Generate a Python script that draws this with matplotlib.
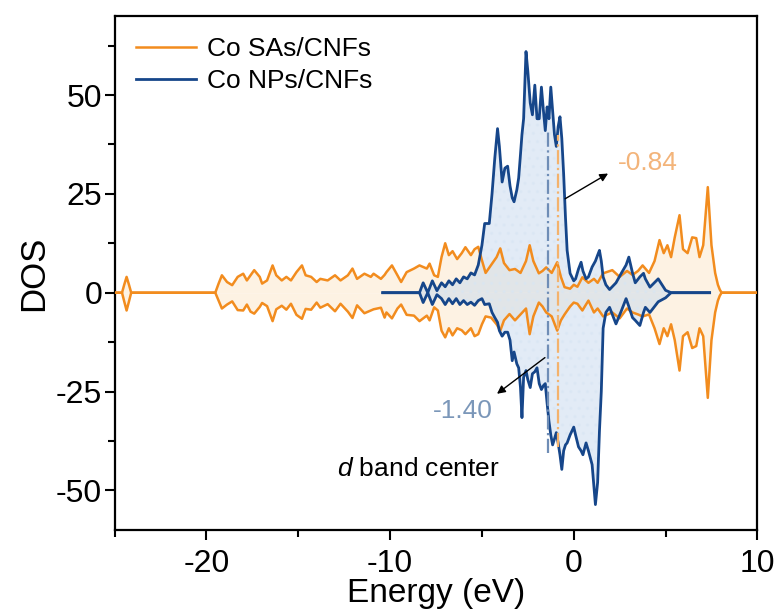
import matplotlib
matplotlib.use("Agg")
import matplotlib.pyplot as plt
from matplotlib.ticker import MultipleLocator

plt.rcParams["font.family"] = ["Liberation Sans", "DejaVu Sans"]
plt.rcParams["mathtext.fontset"] = "custom"
plt.rcParams["mathtext.it"] = "Liberation Sans:italic"
plt.rcParams["mathtext.rm"] = "Liberation Sans"
plt.rcParams["axes.unicode_minus"] = False
plt.rcParams["hatch.linewidth"] = 1.2

# Co SAs/CNFs, spin up / spin down
sa_energy = [
    -25.0, -24.6, -24.48, -24.35, -24.22, -24.1, -19.52,
    -19.34, -19.16, -18.88, -18.6, -18.3, -18.0, -17.8, -17.6, -17.4, -17.1,
    -16.97, -16.7, -16.4, -16.2, -15.9, -15.65, -15.4, -15.1, -14.8, -14.6,
    -14.3, -14.0, -13.8, -13.4, -13.0, -12.7, -12.3, -12.05, -11.8, -11.4,
    -11.05, -10.9, -10.5, -10.3, -10.2, -9.9, -9.6, -9.4, -9.1, -8.7, -8.4,
    -8.0, -7.85, -7.6, -7.4, -7.2, -7.0, -6.8, -6.6, -6.35, -6.1, -5.9, -5.6,
    -5.4, -5.2, -5.0, -4.8, -4.5, -4.2, -4.0, -3.8, -3.5, -3.2, -2.9, -2.6,
    -2.4, -2.2, -1.9, -1.7, -1.5, -1.2, -0.9, -0.7, -0.5, -0.2, 0.0, 0.2,
    0.47, 0.8, 1.1, 1.3, 1.6, 2.1, 2.5, 2.9, 3.2, 3.5, 3.75, 4.1, 4.4, 4.67,
    4.9, 5.1, 5.3, 5.5, 5.76, 5.95, 6.2, 6.45, 6.67, 6.85, 7.05, 7.3, 7.5,
    7.7, 7.85, 7.95, 8.05, 10.0,
]
sa_up = [
    0, 0, 2.0, 4.0, 2.0, 0, 0,
    2.3, 4.4, 2.7, 1.9, 4.0, 4.8, 3.1, 4.4, 5.7, 4.0,
    2.3, 3.1, 6.9, 4.4, 3.1, 4.0, 3.1, 5.2, 6.9, 4.4,
    4.0, 2.7, 3.5, 3.1, 4.4, 3.1, 4.4, 6.1, 3.5, 4.8,
    4.0, 4.8, 3.5, 4.5, 5.2, 6.9, 4.4, 2.7, 5.2, 6.1, 6.9,
    6.1, 7.35, 4.4, 4.0, 9.0, 12.5, 9.5, 10.5, 8.5, 10.0, 11.5, 9.5,
    11.0, 11.6, 8.2, 5.0, 7.0, 9.0, 11.2, 7.5, 5.7, 6.0, 5.0, 8.0,
    12.0, 8.0, 4.9, 5.5, 6.4, 5.0, 7.7, 4.0, 1.4, 1.0, 2.0, 1.5,
    3.9, 2.5, 3.5, 2.5, 4.9, 5.7, 4.0, 5.5, 4.5, 5.5, 6.9, 5.0, 8.0, 13.3,
    10.0, 12.0, 9.0, 14.0, 19.6, 11.0, 10.0, 14.0, 13.8, 9.0, 12.0, 26.7, 12.0,
    5.0, 2.0, 0.8, 0, 0,
]
sa_down = [
    0, 0, -2.2, -4.5, -2.2, 0, 0,
    -2.0, -4.0, -3.0, -2.2, -4.4, -4.5, -3.0, -4.8, -5.3, -3.6,
    -2.6, -3.4, -7.2, -4.2, -3.3, -4.3, -2.8, -5.6, -6.6, -4.1,
    -4.3, -2.5, -3.8, -2.9, -4.7, -2.8, -4.8, -6.4, -3.2, -5.2,
    -4.5, -4.2, -3.8, -6.3, -5.0, -6.5, -4.0, -3.0, -5.6, -5.8, -7.2,
    -5.8, -7.0, -3.7, -4.5, -9.6, -11.3, -9.0, -10.8, -9.0, -9.5, -10.5, -9.0,
    -11.0, -10.5, -8.0, -6.0, -6.3, -8.0, -9.6, -7.0, -5.4, -7.0, -5.5, -4.0,
    -10.5, -6.0, -2.5, -3.5, -5.0, -6.0, -9.6, -7.0, -5.5, -3.5, -2.5, -2.8,
    -4.5, -2.0, -5.0, -4.0, -6.0, -5.0, -6.5, -4.0, -5.0, -5.5, -6.0, -5.5, -9.0, -13.0,
    -9.0, -11.0, -8.0, -12.0, -19.7, -11.0, -10.0, -14.0, -13.5, -9.0, -11.0, -26.6, -12.0,
    -5.0, -2.0, -0.8, 0, 0,
]

# Co NPs/CNFs, spin up / spin down
np_energy = [
    -10.4, -8.4, -8.2, -7.95, -7.7, -7.45, -7.2, -7.0, -6.8, -6.6, -6.4,
    -6.2, -6.0, -5.8, -5.6, -5.4, -5.2, -5.0, -4.85, -4.6, -4.45, -4.3,
    -4.15, -4.05, -3.9, -3.75, -3.6, -3.47, -3.35, -3.25, -3.1, -3.0, -2.9,
    -2.82, -2.73, -2.6, -2.5, -2.37, -2.25, -2.12, -2.0, -1.88, -1.76, -1.65,
    -1.55, -1.45, -1.35, -1.25, -1.15, -1.05, -0.95, -0.85, -0.75, -0.65,
    -0.55, -0.45, -0.36, -0.2, 0.0, 0.1, 0.26, 0.4, 0.5, 0.67, 0.8, 1.0,
    1.18, 1.3, 1.4, 1.5, 1.6, 1.75, 1.95, 2.3, 2.6, 2.85, 3.0, 3.2, 3.35,
    3.6, 3.8, 3.9, 4.15, 4.6, 5.0, 5.3, 7.4,
]
np_up = [
    0, 0, 2.5, 0, 3.0, 0.5, 2.5, 1.5, 3.0, 2.0, 3.5,
    2.5, 4.0, 3.5, 5.0, 4.5, 7.0, 12.0, 17.5, 17.5, 25.0, 34.0,
    41.5, 37.0, 28.0, 31.5, 32.0, 27.0, 24.0, 23.0, 26.0, 29.0, 35.0,
    40.0, 44.0, 61.0, 56.0, 48.0, 45.0, 52.5, 44.0, 44.0, 52.0, 46.0,
    41.0, 47.0, 44.0, 52.0, 46.0, 40.0, 37.0, 42.0, 44.5, 39.0,
    30.0, 19.0, 10.7, 4.9, 3.0, 3.5, 6.0, 7.7, 5.5, 3.5, 4.0, 6.5,
    8.0, 9.5, 10.7, 8.0, 4.0, 2.0, 0.8, 2.5, 5.0, 7.0, 9.0, 5.0, 2.5,
    4.0, 4.9, 3.5, 1.4, 3.5, 0.6, 0, 0,
]
np_down = [
    0, 0, -2.5, 0, -3.0, -0.5, -1.5, -3.0, -1.5, -2.8, -1.5,
    -3.0, -2.0, -3.0, -2.4, -3.2, -2.0, -1.5, -3.0, -2.8, -5.0, -6.3,
    -7.5, -9.6, -11.0, -10.0, -10.0, -12.0, -17.2, -15.0, -18.0, -19.0, -24.0,
    -31.6, -21.4, -19.7, -22.0, -24.0, -20.5, -20.0, -19.0, -23.0, -24.5, -23.5,
    -23.0, -28.0, -32.5, -36.0, -38.5, -37.0, -35.4, -38.0, -41.0, -44.7,
    -40.0, -38.5, -38.0, -36.0, -34.0, -36.0, -39.0, -40.0, -41.0, -38.0, -40.0, -43.5,
    -53.6, -48.0, -35.0, -25.0, -9.0, -5.0, -3.7, -7.9, -4.5, -1.5, -3.5, -6.3, -7.0,
    -8.3, -5.0, -3.7, -5.0, -2.3, -1.3, 0, 0,
]

# d band centres
center_np = -1.40
center_sa = -0.84

orange = "#f28c1e"
blue = "#16468a"

fig = plt.figure(figsize=(7.8, 6.14), dpi=100)
ax = fig.add_axes([0.147, 0.137, 0.824, 0.837])

ax.fill_between(sa_energy, sa_up, 0, color="#fdf2e3", linewidth=0, zorder=1)
ax.fill_between(sa_energy, sa_down, 0, color="#fdf2e3", linewidth=0, zorder=1)
for vals in (np_up, np_down):
    ax.fill_between(np_energy, vals, 0, facecolor="#c6d9ee", alpha=0.5,
                    edgecolor="#d8e5f3", hatch="..", linewidth=0, zorder=2)

ax.plot(sa_energy, sa_up, color=orange, lw=1.8, zorder=3, label="Co SAs/CNFs")
ax.plot(sa_energy, sa_down, color=orange, lw=1.8, zorder=3)
ax.plot(np_energy, np_up, color=blue, lw=2.0, zorder=4, label="Co NPs/CNFs")
ax.plot(np_energy, np_down, color=blue, lw=2.0, zorder=4)

ax.plot([center_np, center_np], [-40.5, 41], color="#6f8db6", lw=1.6,
        ls="-.", zorder=5)
ax.plot([center_sa, center_sa], [-39, 40], color="#f4b26c", lw=1.6,
        ls="-.", zorder=5)

ax.annotate("", xy=(2.0, 30.5), xytext=(-0.6, 23.4),
            arrowprops=dict(arrowstyle="-|>", color="black", lw=1.0,
                            mutation_scale=12), zorder=6)
ax.text(2.4, 32.7, f"{center_sa:.2f}", color="#f3b47a", fontsize=19,
        va="center", ha="left")
ax.annotate("", xy=(-4.3, -26), xytext=(-1.45, -16),
            arrowprops=dict(arrowstyle="-|>", color="black", lw=1.0,
                            mutation_scale=12), zorder=6)
ax.text(-4.4, -30, f"{center_np:.2f}", color="#7b97b9", fontsize=19,
        va="center", ha="right")
ax.text(-12.9, -44.5, r"$d$ band center", fontsize=19, va="center",
        ha="left")

ax.set_xlim(-25, 10)
ax.set_ylim(-60, 70)
ax.xaxis.set_major_locator(MultipleLocator(10))
ax.xaxis.set_minor_locator(MultipleLocator(5))
ax.yaxis.set_major_locator(MultipleLocator(25))
ax.yaxis.set_minor_locator(MultipleLocator(12.5))
ax.tick_params(which="both", direction="out", width=1.5, labelsize=23,
               top=False, right=False)
ax.tick_params(which="major", length=7)
ax.tick_params(which="minor", length=5)
ax.tick_params(axis="x", pad=7)
ax.tick_params(axis="y", pad=2)
for sp in ax.spines.values():
    sp.set_linewidth(1.6)

ax.set_xlabel("Energy (eV)", fontsize=24, labelpad=-1)
ax.set_ylabel("DOS", fontsize=25, labelpad=4)

ax.legend(loc="upper left", frameon=False, fontsize=19, handlelength=2.3,
          handletextpad=0.4, labelspacing=0.3, borderaxespad=0.4,
          bbox_to_anchor=(0.0, 1.0))

fig.savefig("out.png", dpi=100)
